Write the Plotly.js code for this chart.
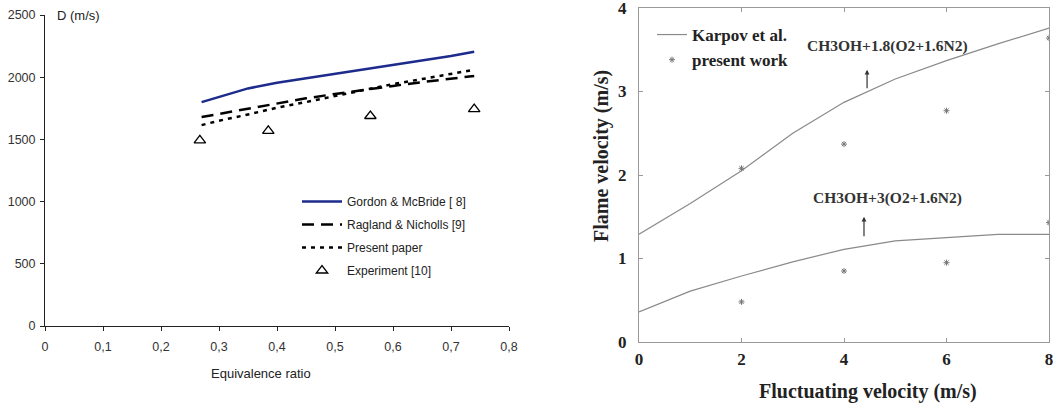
<!DOCTYPE html>
<html><head><meta charset="utf-8">
<script src="https://cdn.plot.ly/plotly-3.0.1.min.js"></script>
<style>html,body{margin:0;padding:0;background:#fff}#c{width:1053px;height:405px}</style>
</head><body><div id="c"></div>
<script>
// Left chart: detonation velocity vs equivalence ratio
const phi = [0.27, 0.30, 0.35, 0.40, 0.45, 0.50, 0.55, 0.60, 0.65, 0.70, 0.74];
const gordon = [1800, 1840, 1910, 1955, 1990, 2025, 2060, 2095, 2130, 2170, 2205];
const ragland = [1680, 1705, 1750, 1790, 1830, 1865, 1900, 1930, 1960, 1990, 2010];
const present = [1615, 1650, 1700, 1755, 1800, 1850, 1895, 1945, 1985, 2025, 2060];
const expPhi = [0.267, 0.385, 0.561, 0.74];
const expD = [1492, 1568, 1688, 1744];
const leftXTicks = [0, 0.1, 0.2, 0.3, 0.4, 0.5, 0.6, 0.7, 0.8];
const leftXLabels = ["0", "0,1", "0,2", "0,3", "0,4", "0,5", "0,6", "0,7", "0,8"];
const leftYTicks = [0, 500, 1000, 1500, 2000, 2500];

// Right chart: flame velocity vs fluctuating velocity
const uPrime = [0, 1, 2, 3, 4, 5, 6, 7, 8];
const karpovUpper = [1.29, 1.66, 2.05, 2.50, 2.87, 3.15, 3.37, 3.57, 3.76];
const karpovLower = [0.36, 0.61, 0.79, 0.96, 1.11, 1.21, 1.25, 1.29, 1.29];
const workU = [2, 4, 6, 8];
const workUpper = [2.08, 2.37, 2.77, 3.64];
const workLower = [0.48, 0.85, 0.95, 1.43];
const rightXTicks = [0, 2, 4, 6, 8];
const rightYTicks = [0, 1, 2, 3, 4];

const serif = "Liberation Serif, Times New Roman, serif";
const sans = "Liberation Sans, Arial, sans-serif";

const traces = [
  {x: phi, y: gordon, type: "scatter", mode: "lines", name: "Gordon & McBride [ 8]",
   line: {color: "#1c2b8c", width: 2.5}, xaxis: "x", yaxis: "y", legend: "legend", legendgroup: "a"},
  {x: phi, y: ragland, type: "scatter", mode: "lines", name: "Ragland & Nicholls [9]",
   line: {color: "#000", width: 2.5, dash: "12px,7px"}, xaxis: "x", yaxis: "y", legend: "legend", legendgroup: "b"},
  {x: phi, y: present, type: "scatter", mode: "lines", name: "Present paper",
   line: {color: "#000", width: 2.5, dash: "4px,5px"}, xaxis: "x", yaxis: "y", legend: "legend", legendgroup: "c"},
  {x: expPhi, y: expD, type: "scatter", mode: "markers", name: "Experiment [10]",
   marker: {symbol: "triangle-up-open", size: 10, color: "#000", line: {width: 1.3, color: "#000"}},
   xaxis: "x", yaxis: "y", legend: "legend", legendgroup: "d"},

  {x: uPrime, y: karpovUpper, type: "scatter", mode: "lines", name: "Karpov et al.",
   line: {color: "#8a8a8a", width: 1.2}, xaxis: "x2", yaxis: "y2", legend: "legend2", legendgroup: "e"},
  {x: uPrime, y: karpovLower, type: "scatter", mode: "lines", name: "Karpov et al.", showlegend: false,
   line: {color: "#8a8a8a", width: 1.2}, xaxis: "x2", yaxis: "y2", legend: "legend2"},
  {x: workU, y: workUpper, type: "scatter", mode: "markers", name: "present work",
   marker: {symbol: "asterisk", size: 5, color: "#777", line: {width: 1, color: "#777"}},
   xaxis: "x2", yaxis: "y2", legend: "legend2", legendgroup: "f"},
  {x: workU, y: workLower, type: "scatter", mode: "markers", name: "present work", showlegend: false,
   marker: {symbol: "asterisk", size: 5, color: "#777", line: {width: 1, color: "#777"}},
   xaxis: "x2", yaxis: "y2", legend: "legend2"}
];

const layout = {
  width: 1053, height: 405,
  margin: {l: 0, r: 0, t: 0, b: 0},
  paper_bgcolor: "#fff", plot_bgcolor: "rgba(0,0,0,0)",
  showlegend: true,
  xaxis: {
    domain: [45/1053, 509/1053], range: [0, 0.8], tickvals: leftXTicks, ticktext: leftXLabels,
    showgrid: false, zeroline: false, showline: true, linecolor: "#222", linewidth: 1,
    ticks: "outside", ticklen: 4, tickcolor: "#222", ticklabelstandoff: 5, ticklabeloverflow: "allow",
    tickfont: {family: sans, size: 12.5, color: "#333"},
    anchor: "y"
  },
  yaxis: {
    domain: [79/405, 390/405], range: [0, 2500], tickvals: leftYTicks,
    showgrid: false, zeroline: false, showline: true, linecolor: "#222", linewidth: 1,
    ticks: "outside", ticklen: 4, tickcolor: "#222", ticklabelstandoff: 2, ticklabeloverflow: "allow",
    tickfont: {family: sans, size: 12.5, color: "#333"},
    anchor: "x"
  },
  xaxis2: {
    domain: [639/1053, 1049/1053], range: [0, 8], tickvals: rightXTicks,
    showgrid: false, zeroline: false, showline: true, mirror: "allticks", linecolor: "#999", linewidth: 1,
    ticks: "inside", ticklen: 4, tickcolor: "#999", ticklabelstandoff: 2, ticklabeloverflow: "allow",
    tickfont: {family: serif, size: 17, color: "#222", weight: "bold"},
    anchor: "y2"
  },
  yaxis2: {
    domain: [63/405, 397/405], range: [0, 4], tickvals: rightYTicks,
    showgrid: false, zeroline: false, showline: true, mirror: "allticks", linecolor: "#999", linewidth: 1,
    ticks: "inside", ticklen: 4, tickcolor: "#999", ticklabelstandoff: 8, ticklabeloverflow: "allow",
    tickfont: {family: serif, size: 17, color: "#222", weight: "bold"},
    anchor: "x2"
  },
  legend: {
    x: 297/1053, y: 1 - 187/405, xanchor: "left", yanchor: "top",
    bgcolor: "rgba(0,0,0,0)", borderwidth: 0, itemwidth: 40,
    traceorder: "grouped", tracegroupgap: 4,
    font: {family: sans, size: 12, color: "#222"}
  },
  legend2: {
    x: 652/1053, y: 1 - 17/405, xanchor: "left", yanchor: "top",
    bgcolor: "rgba(0,0,0,0)", borderwidth: 0, itemwidth: 30,
    traceorder: "grouped", tracegroupgap: 0,
    font: {family: serif, size: 17, color: "#222", weight: "bold"}
  },
  annotations: [
    {xref: "x", yref: "y", x: 0.017, y: 2500, text: "D (m/s)", showarrow: false,
     xanchor: "left", yanchor: "middle", font: {family: sans, size: 13, color: "#222"}},
    {xref: "paper", yref: "paper", x: 261/1053, y: 1 - 373/405, text: "Equivalence ratio", showarrow: false,
     xanchor: "center", yanchor: "middle", font: {family: sans, size: 13, color: "#222"}},
    {xref: "paper", yref: "paper", x: 868/1053, y: 1 - 391/405, text: "Fluctuating velocity (m/s)", showarrow: false,
     xanchor: "center", yanchor: "middle", font: {family: serif, size: 20, color: "#222", weight: "bold"}},
    {xref: "paper", yref: "paper", x: 601/1053, y: 1 - 156/405, text: "Flame velocity (m/s)", showarrow: false,
     textangle: -90, xanchor: "center", yanchor: "middle", font: {family: serif, size: 20, color: "#222", weight: "bold"}},
    {xref: "x2", yref: "y2", x: 4.85, y: 3.55, text: "CH3OH+1.8(O2+1.6N2)", showarrow: false,
     xanchor: "center", yanchor: "middle", font: {family: serif, size: 15.5, color: "#333", weight: "bold"}},
    {xref: "x2", yref: "y2", x: 4.45, y: 3.26, ax: 4.45, ay: 3.02, axref: "x2", ayref: "y2",
     text: "", showarrow: true, arrowhead: 2, arrowsize: 0.8, arrowwidth: 1.2, arrowcolor: "#333"},
    {xref: "x2", yref: "y2", x: 4.85, y: 1.72, text: "CH3OH+3(O2+1.6N2)", showarrow: false,
     xanchor: "center", yanchor: "middle", font: {family: serif, size: 15.5, color: "#333", weight: "bold"}},
    {xref: "x2", yref: "y2", x: 4.39, y: 1.5, ax: 4.39, ay: 1.25, axref: "x2", ayref: "y2",
     text: "", showarrow: true, arrowhead: 2, arrowsize: 0.8, arrowwidth: 1.2, arrowcolor: "#333"}
  ]
};

Plotly.newPlot("c", traces, layout, {staticPlot: true, displayModeBar: false});
</script></body></html>
